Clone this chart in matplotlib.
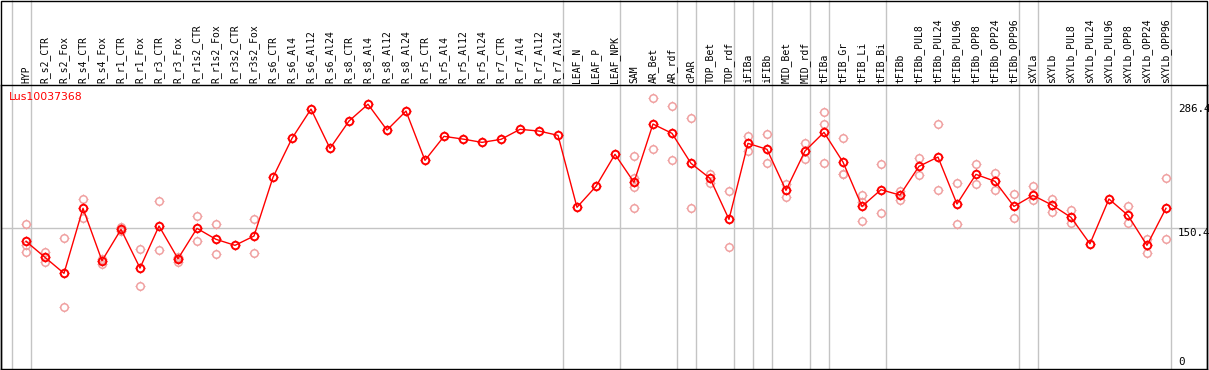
import matplotlib
matplotlib.use("Agg")
import matplotlib.pyplot as plt
from matplotlib.path import Path

categories = [
    "HYP", "R_s2_CTR", "R_s2_Fox", "R_s4_CTR", "R_s4_Fox", "R_r1_CTR", "R_r1_Fox",
    "R_r3_CTR", "R_r3_Fox", "R_r1s2_CTR", "R_r1s2_Fox", "R_r3s2_CTR", "R_r3s2_Fox",
    "R_s6_CTR", "R_s6_Al4", "R_s6_Al12", "R_s6_Al24", "R_s8_CTR", "R_s8_Al4",
    "R_s8_Al12", "R_s8_Al24", "R_r5_CTR", "R_r5_Al4", "R_r5_Al12", "R_r5_Al24",
    "R_r7_CTR", "R_r7_Al4", "R_r7_Al12", "R_r7_Al24", "LEAF_N", "LEAF_P", "LEAF_NPK",
    "SAM", "AR_Bet", "AR_rdf", "cPAR", "TOP_Bet", "TOP_rdf", "iFIBa", "iFIBb",
    "MID_Bet", "MID_rdf", "tFIBa", "tFIB_Gr", "tFIB_Li", "tFIB_Bi", "tFIBb",
    "tFIBb_PUL8", "tFIBb_PUL24", "tFIBb_PUL96", "tFIBb_OPP8", "tFIBb_OPP24",
    "tFIBb_OPP96", "sXYLa", "sXYLb", "sXYLb_PUL8", "sXYLb_PUL24", "sXYLb_PUL96",
    "sXYLb_OPP8", "sXYLb_OPP24", "sXYLb_OPP96",
]

means = [
    136.1, 118.5, 101.0, 172.3, 114.8, 149.2, 106.8, 152.9, 117.0, 150.3, 138.3,
    131.7, 141.9, 206.3, 249.0, 281.1, 238.0, 268.0, 286.4, 258.1, 278.9, 224.9,
    251.2, 248.2, 244.6, 247.9, 258.9, 257.0, 252.3, 173.4, 196.4, 231.5, 200.8,
    264.7, 254.5, 221.6, 205.2, 160.2, 243.5, 237.0, 192.0, 235.1, 255.6, 223.0,
    174.4, 192.7, 186.8, 218.3, 228.5, 177.0, 209.5, 201.9, 174.4, 186.5, 175.9,
    162.4, 133.4, 182.5, 164.6, 131.7, 172.3,
]

replicates = [
    [154.7, 124.7, 132.0], [124.7, 113.7], [139.4, 63.7], [182.5, 162.0],
    [116.7, 111.2], [151.8, 147.4], [127.6, 86.7], [179.9, 126.2],
    [118.1, 113.7, 119.0], [163.5, 136.1], [154.7, 121.8], [], [160.2, 122.9],
    [], [], [], [], [], [], [], [], [], [], [], [], [], [], [], [], [], [], [],
    [229.6, 205.2, 195.3, 172.3], [292.9, 236.9], [284.1, 224.9], [271.3, 172.3],
    [210.2, 200.3], [190.9, 129.5], [251.5, 235.1], [253.4, 221.6],
    [199.2, 184.3], [243.5, 226.0], [277.5, 264.4, 222.3], [249.0, 209.5, 210.0],
    [186.5, 178.8, 158.3], [220.5, 166.8], [191.2, 181.4], [227.1, 208.4],
    [264.4, 192.0], [199.7, 154.7], [220.5, 198.6], [210.6, 192.0],
    [187.6, 161.3], [196.7, 181.0], [182.5, 168.5], [170.1, 155.8], [], [],
    [174.4, 155.8], [138.9, 123.6], [205.2, 138.9],
]

separator_after = ["HYP", "R_r7_Al24", "LEAF_NPK", "AR_rdf", "cPAR", "TOP_rdf",
                   "iFIBa", "iFIBb", "MID_rdf", "tFIBa", "tFIB_Bi", "tFIBb_OPP96",
                   "sXYLa", "sXYLb_OPP96"]

gene = "Lus10037368"
ref_lines = [150.4]
y_labels = [286.4, 150.4, 0]

W, H = 1209, 370
fig = plt.figure(figsize=(W / 100, H / 100), dpi=100)
ax = fig.add_axes([1 / W, 1 / H, 1206 / W, 284 / H])
ax.set_xlim(-1.316, 62.16)
ax.set_ylim(-3.9, 307.5)
ax.set_xticks([])
ax.set_yticks([])
for s in ax.spines.values():
    s.set_color("black")
    s.set_linewidth(1.0)

# outer frame around the label strip
fig.add_artist(plt.Rectangle((1 / W, 0.5 / H), 1206 / W, (H - 1) / H,
                             transform=fig.transFigure, fill=False,
                             edgecolor="black", linewidth=1.0))

grey = "#c4c4c4"
xt = ax.get_xaxis_transform()
seps = [-1] + [categories.index(c) for c in separator_after]
ax.vlines([k + 0.25 for k in seps], 0, 1 + 85 / 284, transform=xt, colors=grey,
          linewidth=1.0, clip_on=False, zorder=0)
for v in ref_lines:
    ax.axhline(v, color=grey, linewidth=1.0, zorder=0)

# short ticks sticking out of each circle
tick = Path([(0, 1), (0, 1.3), (0, -1), (0, -1.3), (1, 0), (1.3, 0), (-1, 0), (-1.3, 0)],
            [Path.MOVETO, Path.LINETO] * 4)

xs = list(range(len(categories)))
rx = [i for i, r in enumerate(replicates) for _ in r]
ry = [v for r in replicates for v in r]
rep_col = "#f0a0a0"
ax.plot(rx, ry, ls="none", marker="o", ms=5.4, mfc="none", mec=rep_col, mew=1.1, zorder=2)
ax.plot(rx, ry, ls="none", marker=tick, ms=7.6, mec=rep_col, mew=0.8, zorder=2)

ax.plot(xs, means, color="red", linewidth=1.0, zorder=3)
ax.plot(xs, means, ls="none", marker="o", ms=5.4, mfc="none", mec="red", mew=1.4, zorder=4)
ax.plot(xs, means, ls="none", marker=tick, ms=7.6, mec="red", mew=0.9, zorder=4)

mono = "DejaVu Sans Mono"
for i, name in enumerate(categories):
    ax.text(i, 1 + 2 / 284, name, transform=xt, rotation=90, ha="center",
            va="bottom", fontsize=7, family=mono, color="black", clip_on=False)

yt = ax.get_yaxis_transform()
for v in y_labels:
    ax.text(1177 / 1206, v, f"{v:g}", transform=yt, ha="left",
            va="baseline" if v == 0 else "top", fontsize=7.8, family=mono, color="black")

ax.text(8 / 1206, (369 - 97.3) / 284, gene, transform=ax.transAxes, fontsize=7.8,
        color="red", ha="left", va="center")

fig.savefig("out.png", dpi=100)
